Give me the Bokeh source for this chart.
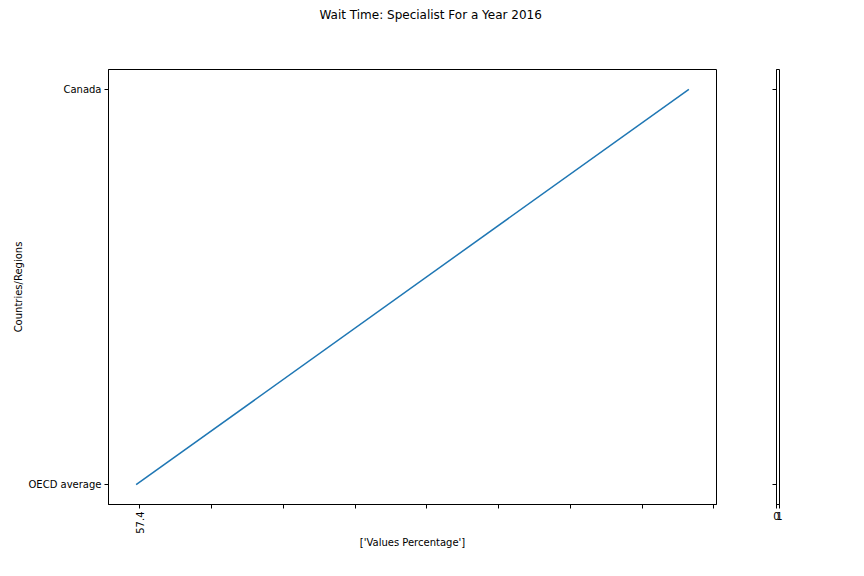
import math
from bokeh.plotting import figure
from bokeh.layouts import row
from bokeh.models import Range1d, FixedTicker, Title
from bokeh.embed import file_html
from bokeh.resources import INLINE

# ---- data ----
regions = ["OECD average", "Canada"]
values = [57.4, 65.1]
x_tick_labels = ["57.4", "", "", "", "", "", "", "", ""]
title_text = "Wait Time: Specialist For a Year 2016"
x_label = "['Values Percentage']"
y_label = "Countries/Regions"

FONT = "DejaVu Sans"
ypos = list(range(len(regions)))

span = max(values) - min(values)
xr = Range1d(min(values) - 0.05 * span, max(values) + 0.05 * span)
yr = Range1d(-0.05, len(regions) - 1 + 0.05)

p = figure(width=752, height=560, x_range=xr, y_range=yr,
           output_backend="svg", toolbar_location=None,
           min_border_left=108, min_border_right=36,
           min_border_top=69, min_border_bottom=56)
p.line(values, ypos, line_color="#1f77b4", line_width=1.5)

x_ticks = [min(values) + 0.05 + k for k in range(len(x_tick_labels))]
p.xaxis.ticker = FixedTicker(ticks=x_ticks)
p.xaxis.major_label_overrides = {t: l for t, l in zip(x_ticks, x_tick_labels)}
p.xaxis.major_label_orientation = math.pi / 2
p.yaxis.ticker = FixedTicker(ticks=ypos)
p.yaxis.major_label_overrides = {i: r for i, r in zip(ypos, regions)}
p.xaxis.axis_label = x_label
p.yaxis.axis_label = y_label

def style(fig):
    fig.xgrid.visible = False
    fig.ygrid.visible = False
    fig.outline_line_color = "black"
    fig.outline_line_alpha = 1
    fig.outline_line_width = 1
    fig.background_fill_color = "white"
    fig.border_fill_color = "white"
    for ax in list(fig.xaxis) + list(fig.yaxis):
        ax.axis_line_color = "black"
        ax.axis_line_width = 1
        ax.major_tick_in = 0
        ax.major_tick_out = 4
        ax.major_tick_line_color = "black"
        ax.minor_tick_line_color = None
        ax.major_label_text_font = FONT
        ax.major_label_text_font_size = "10px"
        ax.major_label_text_color = "black"
        ax.major_label_standoff = 3
        ax.axis_label_text_font = FONT
        ax.axis_label_text_font_size = "10px"
        ax.axis_label_text_font_style = "normal"
        ax.axis_label_text_color = "black"
        ax.axis_label_standoff = 5

style(p)
p.xaxis.axis_label_standoff = 0
p.yaxis.axis_label_standoff = 2

# spacer between the title and the frame
p.add_layout(Title(text=" ", text_font_size="37px", standoff=0), "above")

p.title.text = title_text
p.title.align = "left"
p.title.offset = 211
p.title.text_font = FONT
p.title.text_font_size = "12px"
p.title.text_font_style = "normal"
p.title.text_color = "black"

# small secondary axes on the right
p2 = figure(width=96, height=560, x_range=Range1d(0, 1), y_range=yr,
            output_backend="svg", toolbar_location=None,
            min_border_left=24, min_border_right=69,
            min_border_top=69, min_border_bottom=56)
p2.xaxis.ticker = FixedTicker(ticks=[0, 1])
p2.yaxis.ticker = FixedTicker(ticks=ypos)
p2.yaxis.major_label_overrides = {i: "" for i in ypos}
style(p2)

layout = row(p, p2, spacing=0)
open("out.html", "w").write(file_html(layout, INLINE))
